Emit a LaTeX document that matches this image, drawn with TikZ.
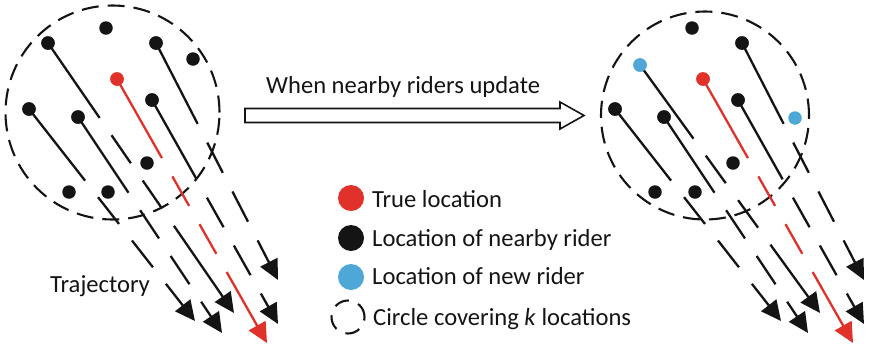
\documentclass[tikz,border=0pt]{standalone}
\usepackage{fontspec}
\setmainfont{Carlito}
\usetikzlibrary{arrows.meta}
\definecolor{rred}{HTML}{E0312A}
\definecolor{rblue}{HTML}{4EA7D6}
\definecolor{rblk}{HTML}{141414}
\begin{document}
\begin{tikzpicture}[x=1pt,y=-1pt,
  dotn/.style={circle,inner sep=0pt,minimum size=13.5pt,fill=#1},
  legdot/.style={circle,inner sep=0pt,minimum size=26pt,fill=#1},
  traj/.style={draw=#1,line width=2.3pt,
    dash pattern=on 91pt off 21pt on 34pt off 21pt on 34pt off 21pt on 600pt off 1pt,
    -{Triangle[length=20pt,width=19pt]}},
  cover/.style={draw=rblk,line width=2.1pt,dash pattern=on 17pt off 9pt},
  txt/.style={anchor=base west,inner sep=0pt,text=rblk,font=\fontsize{24.6pt}{29pt}\selectfont}]
\useasboundingbox (0,0) rectangle (874,346);

% ---------- left panel ----------
\node[circle,cover,minimum size=214pt,inner sep=0pt] (cL) at (112.5,112.5) {};
\coordinate (tLA) at (234,313);
\coordinate (tLB) at (278,280);
\coordinate (tLC) at (267,343);
\coordinate (tLD) at (278,324);
\coordinate (tLE) at (195,321);
\coordinate (tLF) at (222,333);
\node[dotn=rblk] (L1) at (106,28) {};
\node[dotn=rblk] (L2) at (48,43) {};
\node[dotn=rblk] (L3) at (156,43) {};
\node[dotn=rblk] (L4) at (193,59) {};
\node[dotn=rred] (L5) at (117,79) {};
\node[dotn=rblk] (L6) at (152,100) {};
\node[dotn=rblk] (L7) at (29,109) {};
\node[dotn=rblk] (L8) at (78,117) {};
\node[dotn=rblk] (L9) at (147,163) {};
\node[dotn=rblk] (L10) at (69,192) {};
\node[dotn=rblk] (L11) at (108,192) {};
\draw[traj=rblk] (L2.center) -- (tLA);
\draw[traj=rblk] (L3.center) -- (tLB);
\draw[traj=rred] (L5.center) -- (tLC);
\draw[traj=rblk] (L6.center) -- (tLD);
\draw[traj=rblk] (L7.center) -- (tLE);
\draw[traj=rblk] (L8.center) -- (tLF);
\foreach \n in {L2,L3,L6,L7,L8} \fill[rblk] (\n) circle (6.75pt);
\fill[rred] (L5) circle (6.75pt);
\node[txt] (trajlabel) at (50,292) {Trajectory};

% ---------- update arrow ----------
\draw[line width=1.6pt,draw=rblk,fill=white] (245,108.5) -- (560,108.5) -- (560,102) -- (584,115.5) -- (560,129) -- (560,122.5) -- (245,122.5) -- cycle;
\node[txt] (updlabel) at (266,93) {When nearby riders update};

% ---------- right panel ----------
\node[circle,cover,minimum size=208pt,inner sep=0pt] (cR) at (705,115.5) {};
\coordinate (tRA) at (820,313);
\coordinate (tRB) at (864,280);
\coordinate (tRC) at (853,343);
\coordinate (tRD) at (864,324);
\coordinate (tRE) at (781,321);
\coordinate (tRF) at (808,333);
\node[dotn=rblk] (R1) at (692,28) {};
\node[dotn=rblue] (R2) at (640,65) {};
\node[dotn=rblk] (R3) at (742,43) {};
\node[dotn=rblue] (R4) at (795,118) {};
\node[dotn=rred] (R5) at (703,79) {};
\node[dotn=rblk] (R6) at (738,100) {};
\node[dotn=rblk] (R7) at (615,109) {};
\node[dotn=rblk] (R8) at (664,117) {};
\node[dotn=rblk] (R9) at (733,163) {};
\node[dotn=rblk] (R10) at (655,192) {};
\node[dotn=rblk] (R11) at (695,192) {};
\draw[traj=rblk] (R2.center) -- (tRA);
\draw[traj=rblk] (R3.center) -- (tRB);
\draw[traj=rred] (R5.center) -- (tRC);
\draw[traj=rblk] (R6.center) -- (tRD);
\draw[traj=rblk] (R7.center) -- (tRE);
\draw[traj=rblk] (R8.center) -- (tRF);
\foreach \n in {R3,R6,R7,R8} \fill[rblk] (\n) circle (6.75pt);
\fill[rblue] (R2) circle (6.75pt);
\fill[rred] (R5) circle (6.75pt);

% ---------- legend ----------
\node[legdot=rred] (g1) at (351,198) {};
\node[legdot=rblk] (g2) at (351,238) {};
\node[legdot=rblue] (g3) at (351,277) {};
\node[circle,cover,minimum size=33pt,inner sep=0pt,dash pattern=on 15pt off 10pt] (g4) at (348,317) {};
\node[txt] (l1) at (372,207) {True location};
\node[txt] (l2) at (372,246) {Location of nearby rider};
\node[txt] (l3) at (372,284) {Location of new rider};
\node[txt] (l4) at (373,325) {Circle covering \textit{k} locations};
\end{tikzpicture}
\end{document}
